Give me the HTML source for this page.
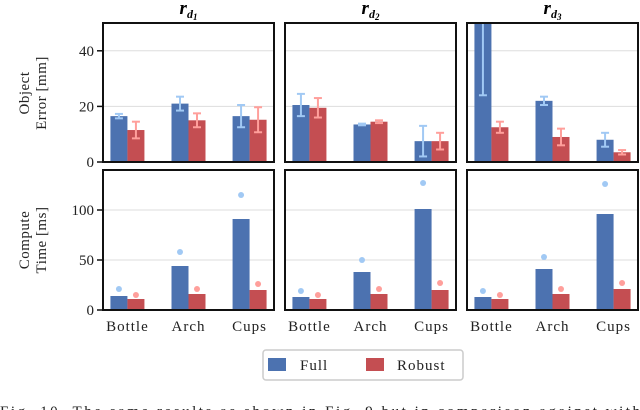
<!DOCTYPE html>
<html><head><meta charset="utf-8"><style>
body{margin:0;background:#fff;width:640px;height:410px;overflow:hidden}
svg{display:block;font-family:"Liberation Serif",serif}
</style></head><body>
<svg id="c" width="640" height="410"></svg>
<script>
const categories=["Bottle","Arch","Cups"];
const panelTitles=["1","2","3"];
const errFull=[[16.5,21,16.5],[20.5,13.5,7.5],[60,22,8]];
const errFullSd=[[0.8,2.5,4],[4,0.3,5.5],[36,1.5,2.5]];
const errRobust=[[11.5,15,15.2],[19.5,14.5,7.5],[12.5,9,3.5]];
const errRobustSd=[[3,2.5,4.5],[3.5,0.5,3],[2,3,0.8]];
const timeFull=[[14,44,91],[13,38,101],[13,41,96]];
const timeFullPeak=[[21,58,115],[19,50,127],[19,53,126]];
const timeRobust=[[11,16,20],[11,16,20],[11,16,21]];
const timeRobustPeak=[[15,21,26],[15,21,27],[15,21,27]];
const errTicks=[0,20,40];
const timeTicks=[0,50,100];

const NS="http://www.w3.org/2000/svg";
const svg=document.getElementById('c');
function el(t,a,p){const e=document.createElementNS(NS,t);for(const k in a)e.setAttribute(k,a[k]);(p||svg).appendChild(e);return e;}
const panelsX=[103,285,467],PW=171;
const rows=[{top:23,bot:162,max:50},{top:170,bot:310,max:140}];
const FULL="#4c72b0",ROB="#c44e52",LF="#a1c9f4",LR="#ff9f9b";
function xs(p,i){return panelsX[p]+PW*(i+0.4)/2.8;}
function ys(r,v){const R=rows[r];return R.bot-(R.bot-R.top)*Math.min(v,R.max)/R.max;}
const bw=17;
for(let p=0;p<3;p++){
  const t=el('text',{x:panelsX[p]+PW/2,y:14,'text-anchor':'middle','font-size':19,'font-style':'italic','font-weight':'bold'});
  
  
  t.innerHTML='r<tspan font-size="12" dy="4">d</tspan><tspan font-size="9" dy="2">'+panelTitles[p]+'</tspan>';
  for(let r=0;r<2;r++){
    const R=rows[r];
    const ticks=r==0?errTicks:timeTicks;
    ticks.forEach(v=>{if(v>0){const g=el('line',{x1:panelsX[p],x2:panelsX[p]+PW,y1:ys(r,v),y2:ys(r,v),stroke:'#ddd','stroke-width':1});
      }});
    for(let i=0;i<3;i++){
      const cx=xs(p,i);
      const vf=r==0?errFull[p][i]:timeFull[p][i];
      const vr=r==0?errRobust[p][i]:timeRobust[p][i];
      const b1=el('rect',{x:cx-bw,y:ys(r,vf),width:bw,height:R.bot-ys(r,vf),fill:FULL});
      
      
      const b2=el('rect',{x:cx,y:ys(r,vr),width:bw,height:R.bot-ys(r,vr),fill:ROB});
      
      
      if(r==0){
        [[cx-bw/2,vf,errFullSd[p][i],LF],[cx+bw/2,vr,errRobustSd[p][i],LR]].forEach(([x,v,s,c])=>{
          const y1=ys(0,v-s),y2=ys(0,v+s);
          const g=el('g',{stroke:c,'stroke-width':2});
          
          
          el('line',{x1:x,x2:x,y1:y1,y2:y2},g);
          el('line',{x1:x-4,x2:x+4,y1:y1,y2:y1},g);
          if(v+s<R.max)el('line',{x1:x-4,x2:x+4,y1:y2,y2:y2},g);
        });
      } else {
        const d1=el('circle',{cx:cx-bw/2,cy:ys(1,timeFullPeak[p][i]),r:3,fill:LF});
        
        const d2=el('circle',{cx:cx+bw/2,cy:ys(1,timeRobustPeak[p][i]),r:3,fill:LR});
        
        const l=el('text',{x:cx,y:331,'text-anchor':'middle','font-size':15,'letter-spacing':1,fill:'#222'});
        l.textContent=categories[i];
        
      }
    }
    const fr=el('rect',{x:panelsX[p],y:R.top,width:PW,height:R.bot-R.top,fill:'none',stroke:'#111','stroke-width':2});
    
    if(p==0){
      ticks.forEach(v=>{
        el('line',{x1:panelsX[0]-6,x2:panelsX[0],y1:ys(r,v),y2:ys(r,v),stroke:'#111','stroke-width':1.5});
        const t=el('text',{x:panelsX[0]-9,y:ys(r,v)+5,'text-anchor':'end','font-size':15,fill:'#222'});
        t.textContent=v;
        
      });
    }
  }
}
function ylab(lines,cy,name){
  const t=el('text',{transform:`translate(0,${cy}) rotate(-90)`,'text-anchor':'middle','font-size':15,'letter-spacing':0.5,fill:'#222'});
  
  lines.forEach((s,k)=>{const ts=el('tspan',{x:0,y:k==0?29:46},t);ts.textContent=s;});
}
ylab(["Object","Error [mm]"],93,'y-axis-title-error');
ylab(["Compute","Time [ms]"],240,'y-axis-title-time');
const lg=el('g',{});

el('rect',{x:263,y:350,width:200,height:30,rx:3,fill:'#fff',stroke:'#ccc','stroke-width':1.5},lg);
const e1=el('rect',{x:268,y:358,width:18,height:13,fill:FULL},lg);

let t1=el('text',{x:300,y:370,'font-size':15,'letter-spacing':1,fill:'#222'},lg);t1.textContent='Full';
const e2=el('rect',{x:366,y:358,width:18,height:13,fill:ROB},lg);

let t2=el('text',{x:397,y:370,'font-size':15,'letter-spacing':1,fill:'#222'},lg);t2.textContent='Robust';
const cap=el('text',{x:0,y:416,'font-size':15,fill:'#222',textLength:640,lengthAdjust:'spacing'});

cap.textContent='Fig. 10. The same results as shown in Fig. 9 but in comparison against with';
</script>
</body></html>
